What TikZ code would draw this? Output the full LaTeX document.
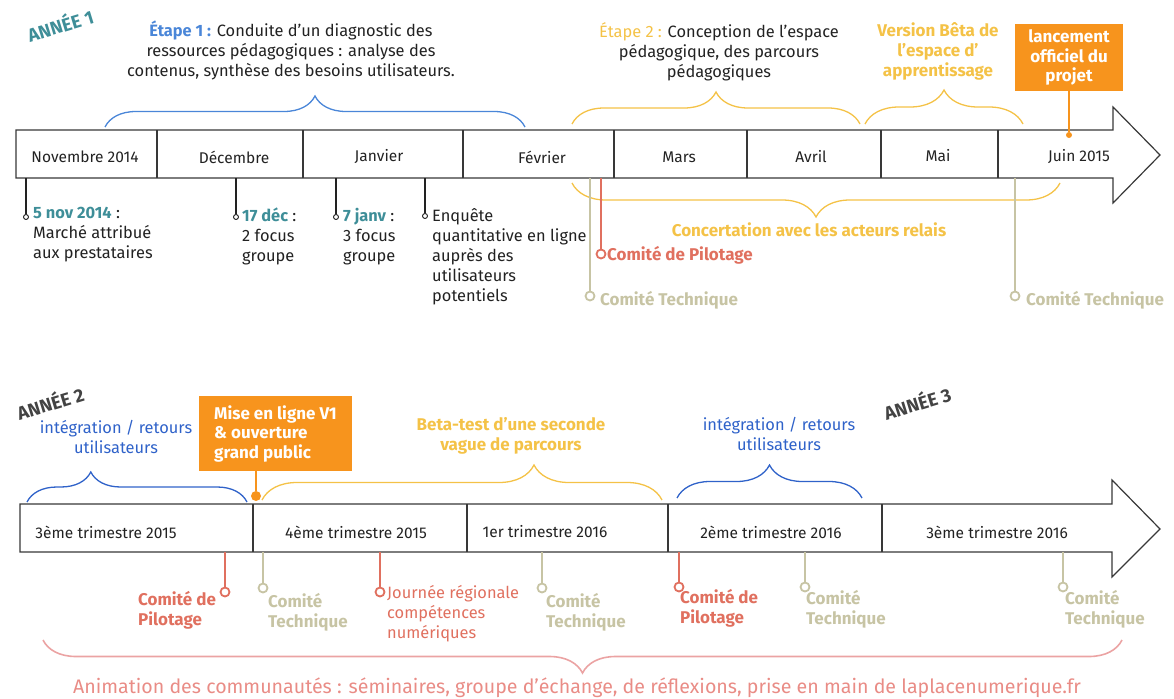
\documentclass[tikz,border=0pt]{standalone}
\usepackage{fontspec}
\setmainfont{Fira Sans}
\usetikzlibrary{decorations.pathreplacing}
\definecolor{ink}{HTML}{222222}
\definecolor{teal1}{HTML}{3E8E98}
\definecolor{blue1}{HTML}{4A86D8}
\definecolor{blue2}{HTML}{2F62C9}
\definecolor{yel}{HTML}{F4C247}
\definecolor{orng}{HTML}{F7941D}
\definecolor{salm}{HTML}{E0705F}
\definecolor{beige}{HTML}{C7C4A4}
\definecolor{pink1}{HTML}{EBA3A3}
\definecolor{pinktxt}{HTML}{E98C86}

\begin{document}
\begin{tikzpicture}[x=1pt,y=-1pt,
	bar/.style={draw=ink!90,line width=1.2},
	month/.style={font=\fontsize{15.5}{18}\selectfont,text=ink,inner sep=0},
	txt/.style={font=\fontsize{16.4}{20}\selectfont,text=ink,inner sep=0,align=left},
	bold/.style={txt,font=\fontsize{17}{20}\selectfont\bfseries},
	annee/.style={font=\fontsize{18.5}{20}\selectfont\bfseries,inner sep=0,rotate=17},
	brc/.style={decorate,decoration={brace,amplitude=#1},line width=1.3},
	obox/.style={fill=orng,text=white,font=\fontsize{17}{19.5}\selectfont\bfseries,inner sep=0},
	odot/.style={circle,fill=orng,inner sep=0,minimum size=#1},
	bdot/.style={circle,draw=ink,fill=white,line width=0.9,inner sep=0,minimum size=5},
	pdot/.style={circle,draw=salm,fill=white,line width=1.8,inner sep=0,minimum size=9},
	cdot/.style={circle,draw=beige,fill=white,line width=1.8,inner sep=0,minimum size=9},
	btick/.style={draw=ink,line width=1.1},
	ptick/.style={draw=salm,line width=2.4},
	ctick/.style={draw=beige,line width=2.4}]
	\useasboundingbox (0,0) rectangle (1174,698);

	% annee 1
	\node[annee,text=teal1] (an1) at (60,24) {ANNÉE 1};
	\coordinate (a1) at (16,178);
	\draw[bar] (16,130) -- (1113,130) -- (1113,107) -- (1160,155) -- (1113,203) -- (1113,178) -- (a1) -- cycle;
	\foreach \x in {157,303,463,614,747,881,998}
		\draw[bar] (\x,130) -- (\x,178);
	\node[month] (m1) at (85,157) {Novembre 2014};
	\node[month] (m2) at (234,157) {Décembre};
	\node[month] (m3) at (379,157) {Janvier};
	\node[month] (m4) at (542,157) {Février};
	\node[month] (m5) at (679,157) {Mars};
	\node[month] (m6) at (811,157) {Avril};
	\node[month] (m7) at (938,156) {Mai};
	\node[month] (m8) at (1079,157) {Juin 2015};

	\node[txt,align=center,anchor=north] (e1) at (291,21) {\textcolor{blue1}{\bfseries Étape 1 :} Conduite d’un diagnostic des\\ressources pédagogiques : analyse des\\contenus, synthèse des besoins utilisateurs.};
	\draw[brc=31,blue1] (105,127) -- (525,127);
	\node[txt,align=center,anchor=north] (e2) at (719,22) {\textcolor{yel}{Étape 2 :} Conception de l’espace\\pédagogique, des parcours\\pédagogiques};
	\draw[brc=32,yel] (572,124) -- (860,124);
	\node[bold,text=yel,align=center,anchor=north] (vb) at (938,22) {Version Bêta de\\l’espace d’\\apprentissage};
	\draw[brc=34,yel] (865,124) -- (1023,124);
	\node[obox,minimum width=108,minimum height=67,align=center] (ob1) at (1069,57.5) {lancement\\officiel du\\projet};
	\node[odot=6] (od1) at (1069,135) {};
	\draw[orng,line width=1.3] (ob1) -- (od1);

	% jalons annee 1
	\node[bdot] (d1) at (26,217) {};
	\draw[btick] (d1 |- a1) -- (d1);
	\node[txt,anchor=north west] (n1) at (33,207) {\textcolor{teal1}{\bfseries 5 nov 2014} :\\Marché attribué\\aux prestataires};
	\node[bdot] (d2) at (236,217) {};
	\draw[btick] (d2 |- a1) -- (d2);
	\node[txt,anchor=north west] (n2) at (242,208) {\textcolor{teal1}{\bfseries 17 déc} :\\2 focus\\groupe};
	\node[bdot] (d3) at (336,217) {};
	\draw[btick] (d3 |- a1) -- (d3);
	\node[txt,anchor=north west] (n3) at (343,208) {\textcolor{teal1}{\bfseries 7 janv} :\\3 focus\\groupe};
	\node[bdot] (d4) at (425,216) {};
	\draw[btick] (d4 |- a1) -- (d4);
	\node[txt,anchor=north west] (n4) at (432,208) {Enquête\\quantitative en ligne\\auprès des\\utilisateurs\\potentiels};

	\draw[brc=34,yel] (1060,183) -- (572,183);
	\node[bold,text=yel] (cc) at (809,230) {Concertation avec les acteurs relais};
	\node[cdot] (c1) at (590,296) {};
	\draw[ctick] (c1 |- a1) -- (c1);
	\node[bold,text=beige,anchor=west] (ct1) at (600,300) {Comité Technique};
	\node[pdot] (p1) at (601,254) {};
	\draw[ptick] (p1 |- a1) -- (p1);
	\node[bold,text=salm,anchor=west] (cp1) at (607,255) {Comité de Pilotage};
	\node[cdot] (c2) at (1015,296) {};
	\draw[ctick] (c2 |- a1) -- (c2);
	\node[bold,text=beige,anchor=west] (ct2) at (1026,300) {Comité Technique};

	% annee 2 et 3
	\node[annee,text=ink!85] (an2) at (50,402) {ANNÉE 2};
	\node[annee,text=ink!85] (an3) at (917,402) {ANNÉE 3};
	\coordinate (b1) at (20,552);
	\draw[bar] (20,504) -- (1112,504) -- (1112,480) -- (1160,529) -- (1112,577) -- (1112,552) -- (b1) -- cycle;
	\foreach \x in {253,467,668,882}
		\draw[bar] (\x,504) -- (\x,552);
	\node[month] (q1) at (106,532) {3ème trimestre 2015};
	\node[month] (q2) at (356,532) {4ème trimestre 2015};
	\node[month] (q3) at (545,532) {1er trimestre 2016};
	\node[month] (q4) at (771,532) {2ème trimestre 2016};
	\node[month] (q5) at (997,532) {3ème trimestre 2016};

	\node[txt,text=blue2,align=center,anchor=north] (i1) at (116,420) {intégration / retours\\utilisateurs};
	\draw[brc=30,blue2,decoration={aspect=0.29}] (27,502) -- (247,502);
	\node[obox,minimum width=153,minimum height=75,align=left] (ob2) at (275.5,433.5) {Mise en ligne V1\\\& ouverture\\grand public};
	\node[odot=10] (od2) at (256,496) {};
	\draw[orng,line width=2] (ob2.south -| od2) -- (od2);
	\node[bold,text=yel,align=center,anchor=north] (bt) at (511,417) {Beta-test d’une seconde\\vague de parcours};
	\draw[brc=35,yel,decoration={aspect=0.68}] (262,500) -- (662,500);
	\node[txt,text=blue2,align=center,anchor=north] (i2) at (779,417) {intégration / retours\\utilisateurs};
	\draw[brc=33,blue2] (677,498) -- (862,498);

	% jalons annee 2
	\node[pdot] (p2) at (225,592) {};
	\draw[ptick] (p2 |- b1) -- (p2);
	\node[bold,text=salm,anchor=north west] (cp2) at (138,591) {Comité de\\Pilotage};
	\node[cdot] (c3) at (263,588) {};
	\draw[ctick] (c3 |- b1) -- (c3);
	\node[bold,text=beige,anchor=north west] (ct3) at (268,593) {Comité\\Technique};
	\node[pdot] (p3) at (380,592) {};
	\draw[ptick] (p3 |- b1) -- (p3);
	\node[txt,text=salm,anchor=north west] (jr) at (387,585) {Journée régionale\\compétences\\numériques};
	\node[cdot] (c4) at (542,588) {};
	\draw[ctick] (c4 |- b1) -- (c4);
	\node[bold,text=beige,anchor=north west] (ct4) at (546,593) {Comité\\Technique};
	\node[pdot] (p4) at (679,587) {};
	\draw[ptick] (p4 |- b1) -- (p4);
	\node[bold,text=salm,anchor=north west] (cp4) at (680,589) {Comité de\\Pilotage};
	\node[cdot] (c5) at (805,587) {};
	\draw[ctick] (c5 |- b1) -- (c5);
	\node[bold,text=beige,anchor=north west] (ct5) at (806,590) {Comité\\Technique};
	\node[cdot] (c6) at (1063,587) {};
	\draw[ctick] (c6 |- b1) -- (c6);
	\node[bold,text=beige,anchor=north west] (ct6) at (1065,590) {Comité\\Technique};

	\draw[brc=33,pink1,line width=1.6] (1122,640) -- (43,640);
	\node[font=\fontsize{19.6}{22}\selectfont,text=pinktxt,inner sep=0] (anim) at (577,688) {Animation des communautés : séminaires, groupe d’échange, de réflexions, prise en main de laplacenumerique.fr};
\end{tikzpicture}
\end{document}
